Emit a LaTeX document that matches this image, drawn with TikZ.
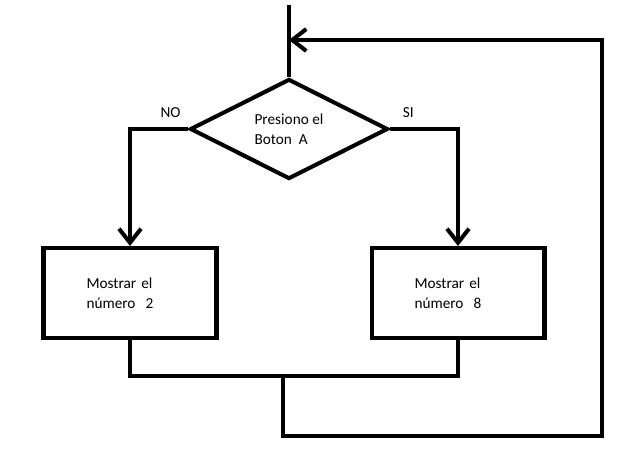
\documentclass[tikz,border=0pt]{standalone}
\usepackage{fontspec}
\setmainfont{Carlito}
\usetikzlibrary{arrows.meta,shapes.geometric}

\tikzset{
	flow/.style={line width=2.3pt},
	arr/.style={flow, -{Straight Barb[length=0.28cm,width=0.44cm]}},
	decision/.style={diamond, draw, flow, inner sep=0pt, minimum width=3.96cm, minimum height=2cm, align=left},
	block/.style={rectangle, draw, flow, text width=1.74cm, inner xsep=0.86cm, minimum height=1.8cm, align=left},
}

\begin{document}
\begin{tikzpicture}[x=0.02cm, y=-0.02cm, font=\fontsize{8.7}{11.3}\selectfont]
		\useasboundingbox (0,0) rectangle (629,454);
		\node[decision] (dec) at (289,129) {Presiono el\\Boton\ \ A};
		\node[block] (mostrar2) at (130,293) {Mostrar el\\número\ \ 2};
		\node[block] (mostrar8) at (458,293) {Mostrar el\\número\ \ 8};
		\coordinate (top) at (289,5);
		\coordinate (back) at (289,40);
		\coordinate (join) at (283,376);
		\coordinate (corner) at (602,436);
		% entrada y lazo de regreso
		\draw[flow] (top) -- (dec.north);
		\draw[flow] (mostrar2.south) |- (join) -| (mostrar8.south);
		\draw[arr] (join) |- (corner) |- (back);
		% ramas de la decision
		\draw[arr] (dec.west) -| (mostrar2.north) node[pos=0.15, above=2pt]{NO};
		\draw[arr] (dec.east) -| (mostrar8.north) node[pos=0.135, above=2pt]{SI};
	\end{tikzpicture}
\end{document}
